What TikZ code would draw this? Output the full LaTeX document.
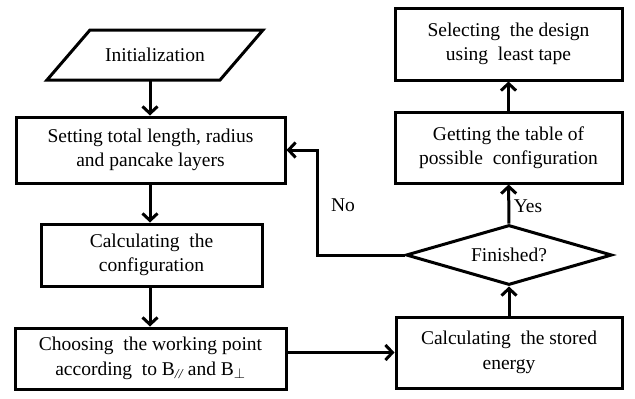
\documentclass[tikz,border=0pt]{standalone}
\usepackage{fontspec}
\setmainfont{Liberation Serif}
\usetikzlibrary{shapes.geometric,arrows.meta}
\begin{document}
\begin{tikzpicture}[x=1pt,y=-1pt,
  every node/.style={font=\fontsize{19.5}{24.5}\selectfont},
  box/.style={draw,line width=3pt,align=center,inner sep=0pt},
  arr/.style={line width=3pt,-{Straight Barb[length=7pt,width=15pt,line width=3pt]}},
  lbl/.style={inner sep=0pt}]
\useasboundingbox (0,0) rectangle (635,399);
% parallelogram
\draw[line width=3pt,line join=miter] (90,30) -- (263,30) -- (220,80) -- (47,80) -- cycle;
\node[inner sep=0pt,minimum height=50pt,minimum width=100pt] (init) at (155,55) {Initialization};
\coordinate (initb) at (150,80);
\node[box,minimum width=269pt,minimum height=66pt] (set) at (150.5,150) {Setting total length, radius\\and pancake layers};
\node[box,minimum width=221pt,minimum height=62pt] (calc) at (151.5,255) {Calculating\ \ the\\configuration};
\node[box,minimum width=271pt,minimum height=61pt] (choose) at (150.5,358.5) {Choosing\ \ the working point\\according\ \ to B\textsubscript{\itshape //} and B\textsubscript{$\perp$}};
\node[box,minimum width=227pt,minimum height=72pt] (sel) at (508.5,44) {Selecting\ \ the design\\using\ \ least tape};
\node[box,minimum width=227pt,minimum height=71pt] (get) at (508.5,147.5) {Getting the table of\\possible\ \ configuration};
\node[draw,line width=3pt,diamond,aspect=3.43,minimum width=206pt,minimum height=60pt,inner sep=0pt] (fin) at (509,255) {Finished?};
\node[box,minimum width=226pt,minimum height=71pt] (stored) at (509,352.5) {Calculating\ \ the stored\\energy};
\draw[arr] (initb) -- (set.north -| initb);
\draw[arr] (set.south -| initb) -- (calc.north -| initb);
\draw[arr] (calc.south -| initb) -- (choose.north -| initb);
\draw[arr] (choose.east |- stored.west) -- (stored.west);
\draw[arr] (stored) -- (fin);
\draw[arr] (fin) -- (get);
\draw[arr] (get) -- (sel);
\coordinate (nocorner) at (317,255);
\draw[arr] (fin.west) -- (nocorner) -- (nocorner |- set.east) -- (set.east);
\node[lbl] (no) at (343,205) {No};
\node[lbl] (yes) at (528,206) {Yes};
\end{tikzpicture}
\end{document}
